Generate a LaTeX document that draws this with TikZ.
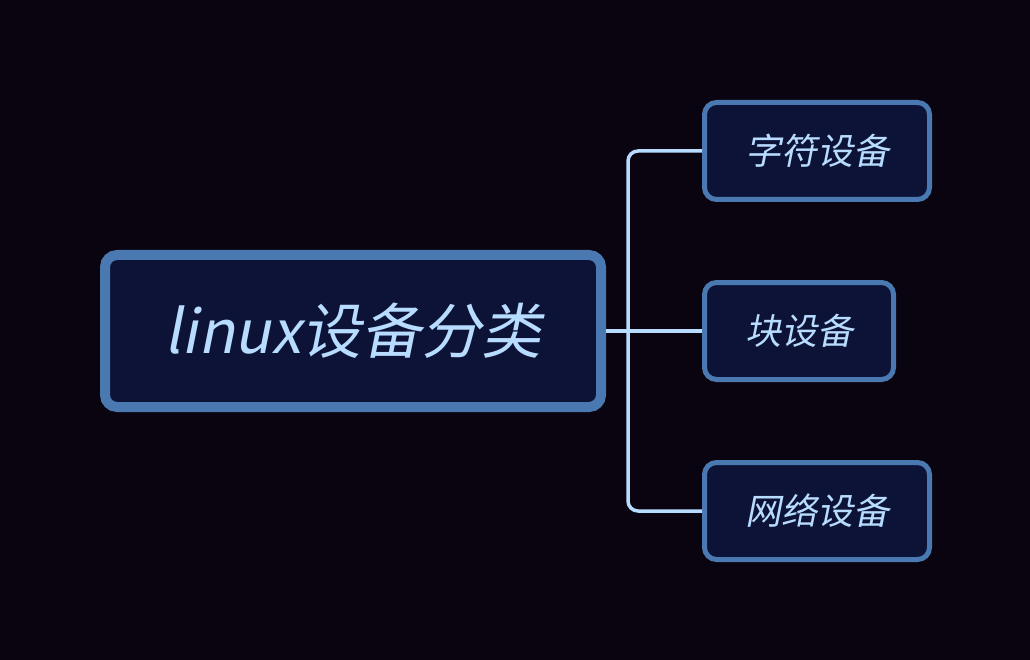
\documentclass[tikz,border=0pt]{standalone}
\usepackage{fontspec}
\newfontfamily\cjk{Noto Sans CJK SC}[FakeSlant=0.2]
\usetikzlibrary{positioning, calc}
\definecolor{bgdark}{HTML}{0A0410}
\definecolor{boxfill}{HTML}{0C1336}
\definecolor{boxline}{HTML}{4A78B0}
\definecolor{textblue}{HTML}{B8DCFF}

\begin{document}
\begin{tikzpicture}[
  x=1pt, y=-1pt,
  rootbox/.style={draw=boxline, fill=boxfill, line width=10pt,
    rounded corners=12pt, minimum width=496pt, minimum height=152pt,
    inner sep=0pt, text=textblue, font=\cjk\fontsize{60}{60}\selectfont},
  leaf/.style={draw=boxline, fill=boxfill, line width=5pt,
    rounded corners=12pt, minimum height=97pt,
    inner sep=0pt, text=textblue, font=\cjk\fontsize{36}{36}\selectfont},
  link/.style={draw=textblue, line width=3.5pt, rounded corners=10pt}
]
  % Background
  \fill[bgdark] (0,0) rectangle (1030,660);
  \useasboundingbox (0,0) rectangle (1030,660);

  % Root and leaves
  \node[rootbox] (root) at (353,331) {linux设备分类};
  \node[leaf, minimum width=225pt] (chr) at (817,151) {字符设备};
  \node[leaf, minimum width=189pt] (blk) at (799,331) {块设备};
  \node[leaf, minimum width=225pt] (net) at (817,511) {网络设备};

  % Connectors
  \coordinate (trunk) at (628,331);
  \draw[link] (root.east) -- (blk.west);
  \draw[link] (trunk) |- (chr.west);
  \draw[link] (trunk) |- (net.west);
\end{tikzpicture}
\end{document}
